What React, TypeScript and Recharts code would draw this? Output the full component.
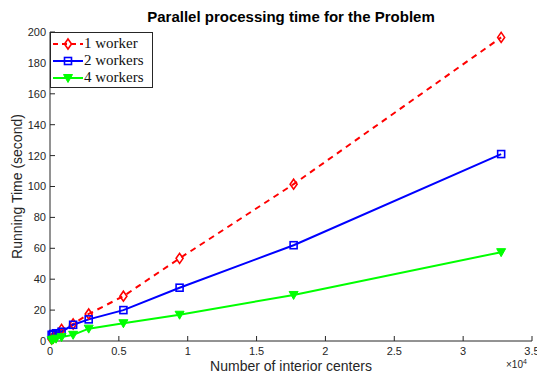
import { LineChart, Line, XAxis, YAxis, Label } from 'recharts'

// interior centers and running times (seconds)
const centers = [120, 230, 440, 840, 1680, 2810, 5330, 9410, 17690, 32760]
const oneWorker = [1.2, 2, 3.5, 7.5, 11, 17.5, 29, 53.5, 101.5, 196.5]
const twoWorkers = [4, 4.5, 5, 6, 10.5, 14, 20, 34.5, 62, 121]
const fourWorkers = [0.5, 1, 1.5, 2.5, 4, 8, 11.5, 17, 29.8, 57.5]

const xTicks = [0, 5000, 10000, 15000, 20000, 25000, 30000, 35000]
const yTicks = [0, 20, 40, 60, 80, 100, 120, 140, 160, 180, 200]

const seriesNames = ['1 worker', '2 workers', '4 workers']

const data = centers.map((c, i) => ({
  centers: c,
  w1: oneWorker[i],
  w2: twoWorkers[i],
  w4: fourWorkers[i],
}))

const axisColor = '#262626'
const tickFont = { fontFamily: 'Liberation Sans, Arial, sans-serif', fontSize: 11, fill: '#262626' }

function Diamond({ cx, cy }: any) {
  if (cx == null || cy == null) return null
  return (
    <path
      d={`M${cx},${cy - 5} L${cx + 3.5},${cy} L${cx},${cy + 5} L${cx - 3.5},${cy} Z`}
      fill="none"
      stroke="#ff0000"
      strokeWidth={1.6}
    />
  )
}

function Square({ cx, cy }: any) {
  if (cx == null || cy == null) return null
  return <rect x={cx - 3.5} y={cy - 3.5} width={7} height={7} fill="none" stroke="#0000ff" strokeWidth={1.6} />
}

function Triangle({ cx, cy }: any) {
  if (cx == null || cy == null) return null
  return (
    <path
      d={`M${cx - 4.5},${cy - 3.5} L${cx + 4.5},${cy - 3.5} L${cx},${cy + 4.5} Z`}
      fill="#00ff00"
      stroke="#00ff00"
      strokeWidth={1}
    />
  )
}

function LegendBox() {
  const rows = [
    { name: seriesNames[0], color: '#ff0000', dash: '5 4', marker: 'd' },
    { name: seriesNames[1], color: '#0000ff', dash: undefined, marker: 's' },
    { name: seriesNames[2], color: '#00ff00', dash: undefined, marker: 't' },
  ]
  return (
    <div
      style={{
        position: 'absolute',
        left: 50,
        top: 32,
        background: '#fff',
        border: '1px solid #262626',
        width: 103,
        height: 56,
        boxSizing: 'border-box',
        paddingTop: 2,
      }}
    >
      {rows.map((r) => (
        <div key={r.name} style={{ display: 'flex', alignItems: 'center', height: 17 }}>
          <svg width={32} height={14} style={{ marginLeft: 1 }}>
            <line x1={1} y1={7} x2={31} y2={7} stroke={r.color} strokeWidth={2} strokeDasharray={r.dash} />
            {r.marker === 'd' && <Diamond cx={16} cy={7} />}
            {r.marker === 's' && <Square cx={16} cy={7} />}
            {r.marker === 't' && <Triangle cx={16} cy={7} />}
          </svg>
          <span style={{ fontFamily: 'Liberation Serif, Times New Roman, serif', fontSize: 15, color: '#111', lineHeight: '17px' }}>
            {r.name}
          </span>
        </div>
      ))}
    </div>
  )
}

export default function App() {
  return (
    <div style={{ position: 'absolute', left: 0, top: 0, width: 537, height: 374, background: '#fff', overflow: 'hidden' }}>
      <div
        style={{
          position: 'absolute',
          left: 50,
          width: 482,
          top: 8,
          textAlign: 'center',
          fontFamily: 'Liberation Sans, Arial, sans-serif',
          fontWeight: 'bold',
          fontSize: 15,
          color: '#000',
        }}
      >
        Parallel processing time for the Problem
      </div>
      <LineChart width={537} height={374} data={data} margin={{ top: 32, right: 5, bottom: 0, left: 0 }}>
        <XAxis
          dataKey="centers"
          type="number"
          domain={[0, 35000]}
          ticks={xTicks}
          tickFormatter={(v: number) => String(v / 10000)}
          stroke={axisColor}
          tickSize={-5}
          tickMargin={11}
          tick={tickFont}
          height={33}
          interval={0}
        >
          <Label
            value="Number of interior centers"
            position="insideBottom"
            offset={3}
            style={{ fontFamily: 'Liberation Sans, Arial, sans-serif', fontSize: 14, fill: '#262626' }}
          />
        </XAxis>
        <XAxis
          xAxisId="top"
          orientation="top"
          dataKey="centers"
          type="number"
          domain={[0, 35000]}
          ticks={xTicks}
          stroke={axisColor}
          tickSize={-5}
          tick={() => <g />}
          height={0}
          interval={0}
        />
        <YAxis
          type="number"
          domain={[0, 200]}
          ticks={yTicks}
          stroke={axisColor}
          tickSize={-5}
          tickMargin={9}
          tick={tickFont}
          width={50}
          interval={0}
        >
          <Label
            value="Running Time (second)"
            angle={-90}
            position="insideLeft"
            offset={17}
            style={{ textAnchor: 'middle', fontFamily: 'Liberation Sans, Arial, sans-serif', fontSize: 14, fill: '#262626' }}
          />
        </YAxis>
        <YAxis
          yAxisId="right"
          orientation="right"
          type="number"
          domain={[0, 200]}
          ticks={yTicks}
          stroke={axisColor}
          tickSize={-5}
          tick={() => <g />}
          width={0}
          interval={0}
        />
        <Line
          type="linear"
          dataKey="w1"
          name={seriesNames[0]}
          stroke="#ff0000"
          strokeWidth={2}
          strokeDasharray="6 5"
          dot={<Diamond />}
          isAnimationActive={false}
        />
        <Line
          type="linear"
          dataKey="w2"
          name={seriesNames[1]}
          stroke="#0000ff"
          strokeWidth={2}
          dot={<Square />}
          isAnimationActive={false}
        />
        <Line
          type="linear"
          dataKey="w4"
          name={seriesNames[2]}
          stroke="#00ff00"
          strokeWidth={2}
          dot={<Triangle />}
          isAnimationActive={false}
        />
      </LineChart>
      <LegendBox />
      <div
        style={{
          position: 'absolute',
          left: 506,
          top: 358,
          fontFamily: 'Liberation Sans, Arial, sans-serif',
          fontSize: 10,
          color: '#262626',
        }}
      >
        ×10<sup style={{ fontSize: 7 }}>4</sup>
      </div>
    </div>
  )
}
